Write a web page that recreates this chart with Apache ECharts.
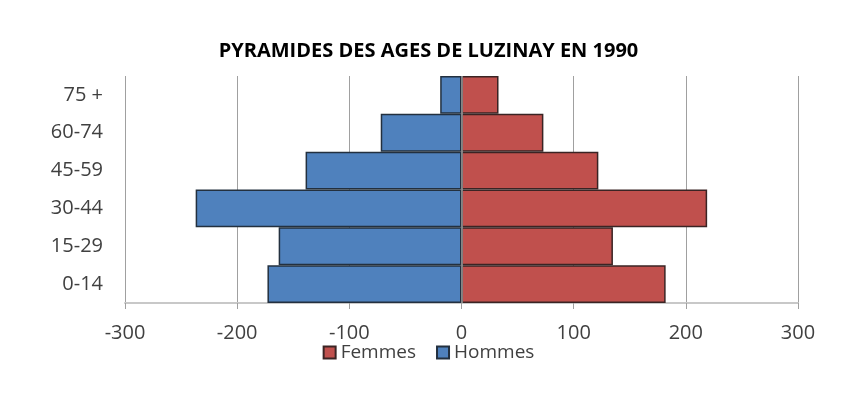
<!DOCTYPE html>
<html>
<head>
  <meta charset="utf-8">
  <script src="https://cdn.jsdelivr.net/npm/echarts@6/dist/echarts.min.js"></script>
</head>
<body style="margin:0;background:#fff;">
<div id="main" style="width:857px;height:406px;"></div>
<script type="text/javascript">
var ages = ['0-14', '15-29', '30-44', '45-59', '60-74', '75 +'];
var femmes = [182, 135, 219, 122, 73, 33];
var hommes = [-173, -163, -237, -139, -72, -19];
var xTicks = [-300, 300, 100];

var chart = echarts.init(document.getElementById('main'));
chart.setOption({
  animation: false,
  title: {
    text: 'PYRAMIDES DES AGES DE LUZINAY EN 1990',
    left: 'center',
    top: 36,
    textStyle: { fontFamily: 'Open Sans', fontWeight: 'bold', fontSize: 20, color: '#000' }
  },
  legend: {
    data: ['Femmes', 'Hommes'],
    bottom: 39,
    left: 'center',
    itemWidth: 12,
    itemHeight: 12,
    itemGap: 20,
    icon: 'rect',
    textStyle: { fontFamily: 'Open Sans', fontSize: 19, color: '#404040', padding: [0, 0, 0, 0] }
  },
  grid: { left: 125, right: 59, top: 76, bottom: 103 },
  xAxis: {
    type: 'value',
    min: xTicks[0],
    max: xTicks[1],
    interval: xTicks[2],
    axisLine: { show: true, onZero: false, lineStyle: { color: '#c8c8c8', width: 2 } },
    axisTick: { show: true, length: 6, lineStyle: { color: '#a0a0a0' } },
    axisLabel: { fontFamily: 'Open Sans', fontSize: 20, color: '#404040', margin: 20 },
    splitLine: { show: true, lineStyle: { color: '#a0a0a0', width: 1 } }
  },
  yAxis: {
    type: 'category',
    data: ages,
    axisLine: { show: false },
    axisTick: { show: false },
    axisLabel: { fontFamily: 'Open Sans', fontSize: 20, color: '#404040', margin: 22 }
  },
  series: [
    {
      name: 'Femmes',
      type: 'bar',
      data: femmes,
      barGap: '-100%',
      barCategoryGap: 0,
      itemStyle: { color: '#C0504D', borderColor: '#3a2424', borderWidth: 1.5 }
    },
    {
      name: 'Hommes',
      type: 'bar',
      data: hommes,
      barGap: '-100%',
      barCategoryGap: 0,
      itemStyle: { color: '#4F81BD', borderColor: '#23303f', borderWidth: 1.5 },
      markLine: {
        silent: true,
        symbol: 'none',
        label: { show: false },
        lineStyle: { color: '#9a9a9a', type: 'solid', width: 1.5 },
        data: [{ xAxis: 0 }]
      }
    }
  ]
});
</script>
</body>
</html>
